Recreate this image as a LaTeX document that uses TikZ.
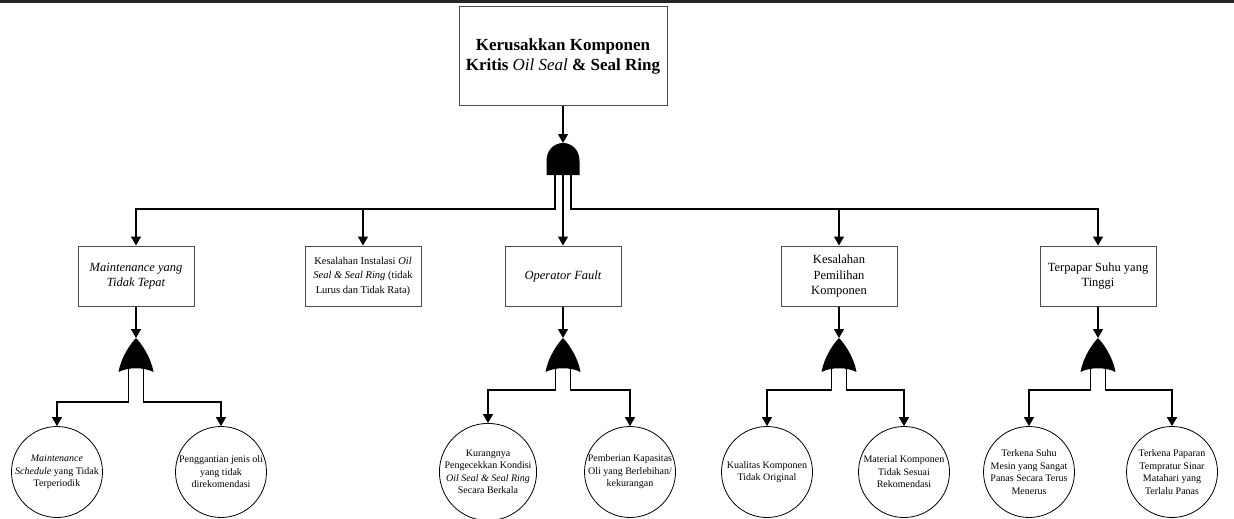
\documentclass[tikz,border=0pt]{standalone}
\usepackage{fontspec}
\setmainfont{Liberation Serif}
\usetikzlibrary{arrows.meta}
\begin{document}
\begin{tikzpicture}[x=1pt,y=-1pt,
  conn/.style={line width=1.4pt,-{Triangle[width=10pt,length=9pt]}},
  topbox/.style={draw=black!70,line width=1pt,minimum width=208pt,minimum height=99pt,align=center,font=\fontsize{17}{20}\selectfont\bfseries},
  box/.style={draw=black!70,line width=1pt,minimum width=116pt,minimum height=60pt,align=center,inner sep=2pt,font=\fontsize{12.5}{15.5}\selectfont},
  basic/.style={circle,draw,line width=0.8pt,minimum size=91pt,inner sep=0pt,align=center,font=\fontsize{10}{12.5}\selectfont},
  andgate/.pic={
    \fill (-16.5,16) -- (-16.5,2) .. controls (-16.5,-10) and (-8,-16) .. (0,-16) .. controls (8,-16) and (16.5,-10) .. (16.5,2) -- (16.5,16) -- cycle;
    \coordinate (-top) at (0,-16);
    \coordinate (-l) at (-8,16);
    \coordinate (-m) at (0,16);
    \coordinate (-r) at (8,16);},
  orgate/.pic={
    \fill (0,-17) .. controls (5,-12) and (15,2) .. (17.5,17) .. controls (8,12) and (-8,12) .. (-17.5,17) .. controls (-15,2) and (-5,-12) .. (0,-17);
    \coordinate (-top) at (0,-17);
    \coordinate (-l) at (-7.5,13);
    \coordinate (-r) at (7.5,13);}]
  \useasboundingbox (0,0) rectangle (1234,519);
  \draw[line width=3pt,black!85] (0,1.5) -- (1234,1.5);

  \node[topbox] (top) at (563,56) {Kerusakkan Komponen\\Kritis {\mdseries\itshape Oil Seal} \& Seal Ring};
  \pic (g0) at (563,159) {andgate};

  \node[box] (b1) at (136,276) {\itshape Maintenance yang\\\itshape Tidak Tepat};
  \node[box,font=\fontsize{10.5}{14.5}\selectfont] (b2) at (363,276) {Kesalahan Instalasi \textit{Oil}\\\textit{Seal \& Seal Ring} (tidak\\Lurus dan Tidak Rata)};
  \node[box] (b3) at (563,276) {\itshape Operator Fault};
  \node[box] (b4) at (839,276) {Kesalahan\\Pemilihan\\Komponen};
  \node[box] (b5) at (1098,276) {Terpapar Suhu yang\\Tinggi};

  \pic (g1) at (136,355) {orgate};
  \pic (g3) at (563,355) {orgate};
  \pic (g4) at (839,355) {orgate};
  \pic (g5) at (1098,355) {orgate};

  \node[basic] (c1) at (57,472) {\textit{Maintenance}\\\textit{Schedule} yang Tidak\\Terperiodik};
  \node[basic] (c2) at (221,472) {Penggantian jenis oli\\yang tidak\\direkomendasi};
  \node[basic] (c3) at (488,472) {Kurangnya\\Pengecekkan Kondisi\\\textit{Oil Seal \& Seal Ring}\\Secara Berkala};
  \node[basic] (c4) at (630,472) {Pemberian Kapasitas\\Oli yang Berlebihan/\\kekurangan};
  \node[basic] (c5) at (767,472) {Kualitas Komponen\\Tidak Original};
  \node[basic] (c6) at (904,472) {Material Komponen\\Tidak Sesuai\\Rekomendasi};
  \node[basic] (c7) at (1029,472) {Terkena Suhu\\Mesin yang Sangat\\Panas Secara Terus\\Menerus};
  \node[basic] (c8) at (1172,472) {Terkena Paparan\\Tempratur Sinar\\Matahari yang\\Terlalu Panas};

  \draw[conn] (top.south) -- (g0-top);
  \draw[conn] (g0-m) -- (b3.north);
  \draw[conn] (g0-l) -- ++(0,34) -| (b1.north);
  \draw[conn] (g0-l) -- ++(0,34) -| (b2.north);
  \draw[conn] (g0-r) -- ++(0,34) -| (b4.north);
  \draw[conn] (g0-r) -- ++(0,34) -| (b5.north);

  \draw[conn] (b1.south) -- (g1-top);
  \draw[conn] (b3.south) -- (g3-top);
  \draw[conn] (b4.south) -- (g4-top);
  \draw[conn] (b5.south) -- (g5-top);

  \draw[conn] (g1-l) -- ++(0,34) -| (c1.north);
  \draw[conn] (g1-r) -- ++(0,34) -| (c2.north);
  \draw[conn] (g3-l) -- ++(0,22) -| (c3.north);
  \draw[conn] (g3-r) -- ++(0,22) -| (c4.north);
  \draw[conn] (g4-l) -- ++(0,22) -| (c5.north);
  \draw[conn] (g4-r) -- ++(0,22) -| (c6.north);
  \draw[conn] (g5-l) -- ++(0,22) -| (c7.north);
  \draw[conn] (g5-r) -- ++(0,22) -| (c8.north);
\end{tikzpicture}
\end{document}
